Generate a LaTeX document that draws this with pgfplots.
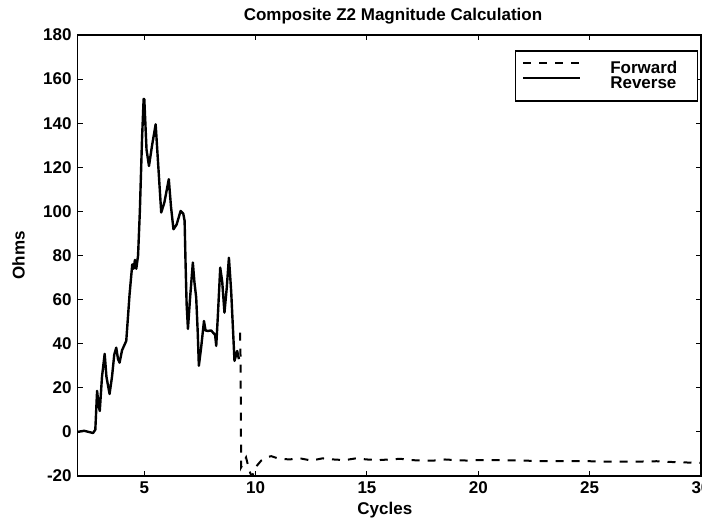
\documentclass[border=0pt]{standalone}
\usepackage{fontspec}
\setmainfont{Liberation Sans}
\usepackage{pgfplots}
\pgfplotsset{compat=1.18}
\begin{document}
\begin{tikzpicture}[font=\fontsize{8.5}{10}\selectfont\bfseries]
\begin{axis}[
  scale only axis, width=311.75pt, height=220.5pt,
  xmin=2, xmax=30, ymin=-20, ymax=180,
  xtick={5,10,...,30}, ytick={-20,0,...,180},
  tick align=inside, major tick length=2.5pt,
  tick style={black, line width=0.5pt},
  axis line style={black, line width=0.7pt},
  /pgf/number format/assume math mode=true,
  ticklabel style={font=\fontsize{8.5}{10}\selectfont\bfseries},
  xticklabel style={anchor=base, yshift=-8.5pt},
  yticklabel style={anchor=east, inner sep=0pt, xshift=-2.75pt},
  every axis title shift=0pt,
  title={Composite Z2 Magnitude Calculation},
  title style={at={(axis description cs:0.506,1.034)}, anchor=base, inner sep=0pt},
  xlabel={Cycles},
  xlabel style={at={(axis description cs:0.493,-0.0862)}, anchor=base, inner sep=0pt},
  ylabel={Ohms},
  ylabel style={at={(axis description cs:-0.0946,0.5)}, anchor=center, inner sep=0pt},
  legend cell align=left,
  legend image code/.code={\draw[#1] (0pt,2.8pt) -- (28.5pt,2.8pt);},
  legend style={at={(axis description cs:0.995,0.965)}, anchor=north east,
    draw=black, line width=0.6pt, inner xsep=3pt, inner ysep=5pt, row sep=0pt,
    font=\fontsize{8.5}{10}\selectfont\bfseries,
    nodes={inner sep=0pt, text height=6pt, text depth=1.5pt, text width=40.5pt, align=left},
    /tikz/every odd column/.append style={column sep=14.5pt}},
]
\addplot[black, line width=1pt, dash pattern=on 4pt off 4pt] coordinates {
(9.3,45) (9.32,35) (9.35,-16) (9.45,-14) (9.57,-11.6) (9.7,-17) (9.77,-19) (9.85,-20)
(10.0,-16) (10.25,-13) (10.5,-11.5) (10.7,-11) (11,-12) (11.5,-12.5) (12,-12)
(12.5,-13) (13,-12) (13.5,-12.5) (14,-12.8) (14.5,-12) (15,-12.5) (15.5,-12.8)
(16,-12.5) (16.5,-12.2) (17,-12.8) (17.5,-13) (18,-13) (18.5,-12.5) (19,-12.8)
(19.5,-13) (20,-12.8) (21,-12.8) (22,-13) (23,-13.3) (24,-13.2) (25,-13.3)
(26,-13.5) (27,-13.5) (28,-13.3) (29,-13.8) (30,-14)
};
\addlegendentry{Forward}
\addplot[black, line width=1.2pt, line join=round] coordinates {
(2.0,0) (2.3,0.5) (2.5,0) (2.7,-0.5) (2.8,1) (2.88,18.6) (2.95,12) (3.0,9.5)
(3.1,25) (3.22,35.4) (3.3,25) (3.44,17.2) (3.55,25) (3.65,35) (3.74,38.2)
(3.82,33) (3.89,31.4) (4.0,37) (4.19,41.3) (4.34,62.6) (4.46,76) (4.52,74)
(4.58,78) (4.64,74) (4.72,80) (4.8,100) (4.9,133.5) (4.97,151) (5.0,150.9)
(5.1,128) (5.21,120.6) (5.35,130) (5.51,139.5) (5.6,125) (5.76,99.5) (5.9,104)
(6.1,114.6) (6.2,102) (6.31,91.9) (6.45,94) (6.63,100.2) (6.75,99) (6.81,95.7)
(6.85,77.6) (6.9,58) (6.96,46.7) (7.05,60) (7.18,76.8) (7.25,68) (7.33,61)
(7.4,45) (7.45,30) (7.55,38) (7.68,50.3) (7.75,46) (7.86,45.8) (8.0,46)
(8.18,44) (8.23,39) (8.3,52) (8.41,74.5) (8.5,68) (8.6,54.1) (8.7,65)
(8.8,79) (8.9,64) (9.05,32.2) (9.17,36.7) (9.25,33)
};
\addlegendentry{Reverse}
\end{axis}
\pgfresetboundingbox
\path[use as bounding box] ([shift={(-38.75pt,-22.5pt)}]current axis.south west)
  rectangle ([shift={(0.5pt,17.5pt)}]current axis.north east);
\end{tikzpicture}
\end{document}
